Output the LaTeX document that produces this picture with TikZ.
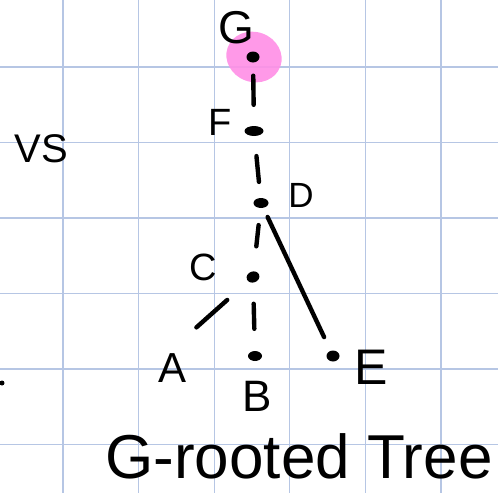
\documentclass[tikz,border=0pt]{standalone}
\usepackage{fontspec}
\setmainfont{Liberation Sans}
\usetikzlibrary{shapes.geometric}
\begin{document}
\begin{tikzpicture}[x=1pt,y=-1pt,
  gridline/.style={draw=gridblue,line width=1.2pt},
  edge/.style={line width=4.4pt,line cap=round},
  dotnode/.style={ellipse,fill=black,inner sep=0pt,minimum width=13pt,minimum height=11pt},
  lab/.style={inner sep=0pt,font=\fontsize{#1}{#1}\selectfont}]
\definecolor{gridblue}{HTML}{B6C6E4}
\definecolor{hlpink}{HTML}{FF8FE6}
\useasboundingbox (0,0) rectangle (498,493);
\fill[white] (0,0) rectangle (498,493);
% grid
\foreach \gx in {63,138.6,214.2,289.8,365.4,441} \draw[gridline] (\gx,0) -- (\gx,493);
\foreach \gy in {67,142.5,218,293.5,369,444.5} \draw[gridline] (0,\gy) -- (498,\gy);
% highlight
\fill[hlpink,opacity=0.9,rotate around={-20:(254,57)}] (254,57) ellipse [x radius=28pt,y radius=25pt];
% dots
\node[dotnode] (G) at (253,57) {};
\node[dotnode,minimum width=19pt,minimum height=10pt] (F) at (254,131) {};
\node[dotnode,minimum width=15pt,minimum height=10pt] (D) at (261,203) {};
\node[dotnode,rotate=20] (C) at (253,277) {};
\node[dotnode,minimum width=14pt,minimum height=10pt] (B) at (255,356) {};
\node[dotnode] (E) at (333,356) {};
\coordinate (Adot) at (180,342);
% edges
\draw[edge,shorten <=13pt,shorten >=21pt] (G) -- (F);
\draw[edge,shorten <=20pt,shorten >=16pt] (F) -- (D);
\draw[edge,shorten <=17pt,shorten >=25pt] (D) -- (C);
\draw[edge,shorten <=10pt,shorten >=15pt] (D) -- (E);
\draw[edge,shorten <=28pt,shorten >=22pt] (C) -- (Adot);
\draw[edge,shorten <=21pt,shorten >=22pt] (C) -- (B);
% labels
\node[lab=46] (Gl) at (236,28) {G};
\node[lab=38] (Fl) at (220,122) {F};
\node[lab=35] (Dl) at (301,195) {D};
\node[lab=38] (Cl) at (203,267) {C};
\node[lab=42] (Al) at (173,368) {A};
\node[lab=44] (Bl) at (257,396) {B};
\node[lab=50] (El) at (371,367) {E};
\node[lab=40] (vs) at (41,149) {VS};
\node[lab=62,anchor=base] (title) at (299,478) {G-rooted Tree};
\fill (2,383) circle (2.5pt);
\end{tikzpicture}
\end{document}
